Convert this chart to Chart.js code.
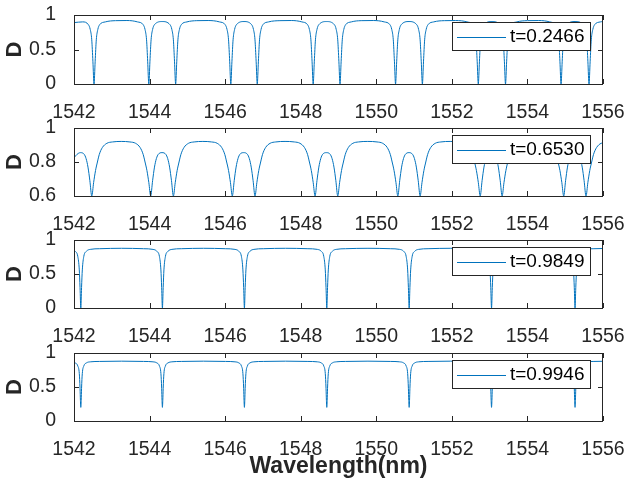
<!DOCTYPE html>
<html>
<head>
<meta charset="utf-8">
<script src="https://cdn.jsdelivr.net/npm/chart.js@4.4.1/dist/chart.umd.min.js"></script>
<style>
  html, body { margin: 0; padding: 0; background: #ffffff; }
  #fig { position: relative; width: 625px; height: 483px; overflow: hidden; background: #ffffff; }
  #fig canvas { position: absolute; left: 0; top: 0; }
</style>
</head>
<body>
<div id="fig">
  <canvas id="p0" width="625" height="483"></canvas>
  <canvas id="p1" width="625" height="483"></canvas>
  <canvas id="p2" width="625" height="483"></canvas>
  <canvas id="p3" width="625" height="483"></canvas>
</div>
<script>
// Shared wavelength axis (nm) and per-panel D axes
const wavelengthTicks = [1542, 1544, 1546, 1548, 1550, 1552, 1554, 1556];
const dTicks = [[0, 0.5, 1], [0.6, 0.8, 1], [0, 0.5, 1], [0, 0.5, 1]];
const dRanges = [[0, 1], [0.6, 1], [0, 1], [0, 1]];
const tLabels = ['t=0.2466', 't=0.6530', 't=0.9849', 't=0.9946'];

// Spectrum samples [wavelength nm, D] for each coupling value t
const spectrumT0 = [
  [1542.00,0.89],[1542.23,0.90],[1542.38,0.86],[1542.43,0.79],[1542.47,0.64],[1542.50,0.33],[1542.53,0],[1542.56,0.33],[1542.59,0.64],[1542.63,0.79],[1542.68,0.86],[1542.83,0.90],[1543.10,0.918],[1543.40,0.92],
  [1543.68,0.90],[1543.83,0.86],[1543.88,0.79],[1543.92,0.64],[1543.95,0.33],[1543.98,0],[1544.01,0.33],[1544.04,0.64],[1544.08,0.79],[1544.13,0.86],[1544.335,0.905],
  [1544.54,0.86],[1544.59,0.79],[1544.63,0.64],[1544.66,0.33],[1544.69,0],[1544.72,0.33],[1544.75,0.64],[1544.79,0.79],[1544.84,0.86],[1544.99,0.90],[1545.25,0.918],[1545.55,0.92],
  [1545.85,0.90],[1546.00,0.86],[1546.05,0.79],[1546.09,0.64],[1546.12,0.33],[1546.15,0],[1546.18,0.33],[1546.21,0.64],[1546.25,0.79],[1546.30,0.86],[1546.50,0.905],
  [1546.70,0.86],[1546.75,0.79],[1546.79,0.64],[1546.82,0.33],[1546.85,0],[1546.88,0.33],[1546.91,0.64],[1546.95,0.79],[1547.00,0.86],[1547.15,0.90],[1547.45,0.918],[1547.75,0.92],
  [1548.03,0.90],[1548.18,0.86],[1548.23,0.79],[1548.27,0.64],[1548.30,0.33],[1548.33,0],[1548.36,0.33],[1548.39,0.64],[1548.43,0.79],[1548.48,0.86],[1548.685,0.905],
  [1548.89,0.86],[1548.94,0.79],[1548.98,0.64],[1549.01,0.33],[1549.04,0],[1549.07,0.33],[1549.10,0.64],[1549.14,0.79],[1549.19,0.86],[1549.34,0.90],[1549.60,0.918],[1549.92,0.92],
  [1550.21,0.90],[1550.36,0.86],[1550.41,0.79],[1550.45,0.64],[1550.48,0.33],[1550.51,0],[1550.54,0.33],[1550.57,0.64],[1550.61,0.79],[1550.66,0.86],[1550.865,0.905],
  [1551.07,0.86],[1551.12,0.79],[1551.16,0.64],[1551.19,0.33],[1551.22,0],[1551.25,0.33],[1551.28,0.64],[1551.32,0.79],[1551.37,0.86],[1551.52,0.90],[1551.80,0.918],[1552.10,0.92],
  [1552.40,0.90],[1552.55,0.86],[1552.60,0.79],[1552.64,0.64],[1552.67,0.33],[1552.70,0],[1552.73,0.33],[1552.76,0.64],[1552.80,0.79],[1552.85,0.86],[1553.06,0.905],
  [1553.27,0.86],[1553.32,0.79],[1553.36,0.64],[1553.39,0.33],[1553.42,0],[1553.45,0.33],[1553.48,0.64],[1553.52,0.79],[1553.57,0.86],[1553.72,0.90],[1554.00,0.918],[1554.30,0.92],
  [1554.59,0.90],[1554.74,0.86],[1554.79,0.79],[1554.83,0.64],[1554.86,0.33],[1554.89,0],[1554.92,0.33],[1554.95,0.64],[1554.99,0.79],[1555.04,0.86],[1555.26,0.905],
  [1555.48,0.86],[1555.53,0.79],[1555.57,0.64],[1555.60,0.33],[1555.63,0],[1555.66,0.33],[1555.69,0.64],[1555.73,0.79],[1555.78,0.86],[1555.93,0.90],[1556.00,0.905]
];

const spectrumT1 = [
  [1542.00,0.825],[1542.08,0.845],[1542.17,0.855],[1542.27,0.845],[1542.32,0.82],[1542.37,0.77],[1542.42,0.69],[1542.47,0.60],
  [1542.52,0.68],[1542.57,0.75],[1542.62,0.80],[1542.67,0.845],[1542.75,0.885],[1542.87,0.91],[1543.02,0.918],[1543.25,0.921],[1543.48,0.918],
  [1543.63,0.91],[1543.75,0.885],[1543.83,0.845],[1543.88,0.80],[1543.93,0.75],[1543.98,0.68],[1544.03,0.60],
  [1544.08,0.69],[1544.13,0.77],[1544.18,0.82],[1544.23,0.845],[1544.33,0.855],[1544.43,0.845],[1544.48,0.82],[1544.53,0.77],[1544.58,0.69],[1544.63,0.60],
  [1544.68,0.68],[1544.73,0.75],[1544.78,0.80],[1544.83,0.845],[1544.91,0.885],[1545.03,0.91],[1545.18,0.918],[1545.41,0.921],[1545.64,0.918],
  [1545.79,0.91],[1545.91,0.885],[1545.99,0.845],[1546.04,0.80],[1546.09,0.75],[1546.14,0.68],[1546.19,0.60],
  [1546.24,0.69],[1546.29,0.77],[1546.34,0.82],[1546.39,0.845],[1546.49,0.855],[1546.59,0.845],[1546.64,0.82],[1546.69,0.77],[1546.74,0.69],[1546.79,0.60],
  [1546.84,0.68],[1546.89,0.75],[1546.94,0.80],[1546.99,0.845],[1547.07,0.885],[1547.19,0.91],[1547.34,0.918],[1547.585,0.921],[1547.83,0.918],
  [1547.98,0.91],[1548.10,0.885],[1548.18,0.845],[1548.23,0.80],[1548.28,0.75],[1548.33,0.68],[1548.38,0.60],
  [1548.43,0.69],[1548.48,0.77],[1548.53,0.82],[1548.58,0.845],[1548.68,0.855],[1548.78,0.845],[1548.83,0.82],[1548.88,0.77],[1548.93,0.69],[1548.98,0.60],
  [1549.03,0.68],[1549.08,0.75],[1549.13,0.80],[1549.18,0.845],[1549.26,0.885],[1549.38,0.91],[1549.53,0.918],[1549.775,0.921],[1550.02,0.918],
  [1550.17,0.91],[1550.29,0.885],[1550.37,0.845],[1550.42,0.80],[1550.47,0.75],[1550.52,0.68],[1550.57,0.60],
  [1550.62,0.69],[1550.67,0.77],[1550.72,0.82],[1550.77,0.845],[1550.865,0.855],[1550.96,0.845],[1551.01,0.82],[1551.06,0.77],[1551.11,0.69],[1551.16,0.60],
  [1551.21,0.68],[1551.26,0.75],[1551.31,0.80],[1551.36,0.845],[1551.44,0.885],[1551.56,0.91],[1551.71,0.918],[1551.955,0.921],[1552.20,0.918],
  [1552.35,0.91],[1552.47,0.885],[1552.55,0.845],[1552.60,0.80],[1552.65,0.75],[1552.70,0.68],[1552.75,0.60],
  [1552.80,0.69],[1552.85,0.77],[1552.90,0.82],[1552.95,0.845],[1553.04,0.855],[1553.13,0.845],[1553.18,0.82],[1553.23,0.77],[1553.28,0.69],[1553.33,0.60],
  [1553.38,0.68],[1553.43,0.75],[1553.48,0.80],[1553.53,0.845],[1553.61,0.885],[1553.73,0.91],[1553.88,0.918],[1554.145,0.921],[1554.41,0.918],
  [1554.56,0.91],[1554.68,0.885],[1554.76,0.845],[1554.81,0.80],[1554.86,0.75],[1554.91,0.68],[1554.96,0.60],
  [1555.01,0.69],[1555.06,0.77],[1555.11,0.82],[1555.16,0.845],[1555.255,0.855],[1555.35,0.845],[1555.40,0.82],[1555.45,0.77],[1555.50,0.69],[1555.55,0.60],
  [1555.60,0.68],[1555.65,0.75],[1555.70,0.80],[1555.75,0.845],[1555.83,0.885],[1555.95,0.91],[1556.00,0.912]
];

const spectrumT2 = [
  [1542.00,0.848],[1542.03,0.835],[1542.10,0.76],[1542.14,0.56],[1542.16,0.30],[1542.18,0],[1542.20,0.30],[1542.22,0.56],[1542.26,0.76],[1542.33,0.835],[1542.43,0.862],[1542.68,0.872],[1543.26,0.878],
  [1543.84,0.872],[1544.09,0.862],[1544.19,0.835],[1544.26,0.76],[1544.30,0.56],[1544.32,0.30],[1544.34,0],[1544.36,0.30],[1544.38,0.56],[1544.42,0.76],[1544.49,0.835],[1544.59,0.862],[1544.84,0.872],[1545.425,0.878],
  [1546.01,0.872],[1546.26,0.862],[1546.36,0.835],[1546.43,0.76],[1546.47,0.56],[1546.49,0.30],[1546.51,0],[1546.53,0.30],[1546.55,0.56],[1546.59,0.76],[1546.66,0.835],[1546.76,0.862],[1547.01,0.872],[1547.60,0.878],
  [1548.19,0.872],[1548.44,0.862],[1548.54,0.835],[1548.61,0.76],[1548.65,0.56],[1548.67,0.30],[1548.69,0],[1548.71,0.30],[1548.73,0.56],[1548.77,0.76],[1548.84,0.835],[1548.94,0.862],[1549.19,0.872],[1549.78,0.878],
  [1550.37,0.872],[1550.62,0.862],[1550.72,0.835],[1550.79,0.76],[1550.83,0.56],[1550.85,0.30],[1550.87,0],[1550.89,0.30],[1550.91,0.56],[1550.95,0.76],[1551.02,0.835],[1551.12,0.862],[1551.37,0.872],[1551.96,0.878],
  [1552.55,0.872],[1552.80,0.862],[1552.90,0.835],[1552.97,0.76],[1553.01,0.56],[1553.03,0.30],[1553.05,0],[1553.07,0.30],[1553.09,0.56],[1553.13,0.76],[1553.20,0.835],[1553.30,0.862],[1553.55,0.872],[1554.155,0.878],
  [1554.76,0.872],[1555.01,0.862],[1555.11,0.835],[1555.18,0.76],[1555.22,0.56],[1555.24,0.30],[1555.26,0],[1555.28,0.30],[1555.30,0.56],[1555.34,0.76],[1555.41,0.835],[1555.51,0.862],[1555.76,0.872],[1556.00,0.875]
];

const spectrumT3 = [
  [1542.00,0.862],[1542.03,0.855],[1542.10,0.81],[1542.14,0.70],[1542.16,0.48],[1542.17,0.30],[1542.18,0.20],[1542.19,0.30],[1542.20,0.48],[1542.22,0.70],[1542.26,0.81],[1542.33,0.855],[1542.43,0.87],[1542.68,0.876],[1543.26,0.88],
  [1543.84,0.876],[1544.09,0.87],[1544.19,0.855],[1544.26,0.81],[1544.30,0.70],[1544.32,0.48],[1544.33,0.30],[1544.34,0.20],[1544.35,0.30],[1544.36,0.48],[1544.38,0.70],[1544.42,0.81],[1544.49,0.855],[1544.59,0.87],[1544.84,0.876],[1545.425,0.88],
  [1546.01,0.876],[1546.26,0.87],[1546.36,0.855],[1546.43,0.81],[1546.47,0.70],[1546.49,0.48],[1546.50,0.30],[1546.51,0.20],[1546.52,0.30],[1546.53,0.48],[1546.55,0.70],[1546.59,0.81],[1546.66,0.855],[1546.76,0.87],[1547.01,0.876],[1547.60,0.88],
  [1548.19,0.876],[1548.44,0.87],[1548.54,0.855],[1548.61,0.81],[1548.65,0.70],[1548.67,0.48],[1548.68,0.30],[1548.69,0.20],[1548.70,0.30],[1548.71,0.48],[1548.73,0.70],[1548.77,0.81],[1548.84,0.855],[1548.94,0.87],[1549.19,0.876],[1549.78,0.88],
  [1550.37,0.876],[1550.62,0.87],[1550.72,0.855],[1550.79,0.81],[1550.83,0.70],[1550.85,0.48],[1550.86,0.30],[1550.87,0.20],[1550.88,0.30],[1550.89,0.48],[1550.91,0.70],[1550.95,0.81],[1551.02,0.855],[1551.12,0.87],[1551.37,0.876],[1551.96,0.88],
  [1552.55,0.876],[1552.80,0.87],[1552.90,0.855],[1552.97,0.81],[1553.01,0.70],[1553.03,0.48],[1553.04,0.30],[1553.05,0.20],[1553.06,0.30],[1553.07,0.48],[1553.09,0.70],[1553.13,0.81],[1553.20,0.855],[1553.30,0.87],[1553.55,0.876],[1554.155,0.88],
  [1554.76,0.876],[1555.01,0.87],[1555.11,0.855],[1555.18,0.81],[1555.22,0.70],[1555.24,0.48],[1555.25,0.30],[1555.26,0.20],[1555.27,0.30],[1555.28,0.48],[1555.30,0.70],[1555.34,0.81],[1555.41,0.855],[1555.51,0.87],[1555.76,0.876],[1556.00,0.878]
];

const spectra = [spectrumT0, spectrumT1, spectrumT2, spectrumT3];

// Layout of the stacked axes (pixel positions of each plot box)
const FONT = '"Liberation Sans", Arial, Helvetica, sans-serif';
const INK = '#262626';
const LINE = '#0072BD';
const BOX_LEFT = 74, BOX_RIGHT = 603, CANVAS_W = 625, CANVAS_H = 483;
const boxTops = [15, 128, 240, 353];
const boxBottoms = [84, 196, 308, 421];

// Box outline, inward ticks on all four sides, and the boxed legend
const matlabAxes = {
  id: 'matlabAxes',
  afterDraw(chart, args, opts) {
    const { ctx, chartArea: a, scales: { x, y } } = chart;
    const L = 5;
    ctx.save();
    ctx.strokeStyle = INK;
    ctx.lineWidth = 1;
    ctx.beginPath();
    x.ticks.forEach(t => {
      const px = Math.round(x.getPixelForValue(t.value)) + 0.5;
      ctx.moveTo(px, a.bottom); ctx.lineTo(px, a.bottom - L);
      ctx.moveTo(px, a.top); ctx.lineTo(px, a.top + L);
    });
    y.ticks.forEach(t => {
      const py = Math.round(y.getPixelForValue(t.value)) + 0.5;
      ctx.moveTo(a.left, py); ctx.lineTo(a.left + L, py);
      ctx.moveTo(a.right, py); ctx.lineTo(a.right - L, py);
    });
    ctx.stroke();
    ctx.strokeRect(a.left + 0.5, a.top + 0.5, a.right - a.left - 1, a.bottom - a.top);

    // legend
    const lx = a.right - 151, ly = a.top + 7, lw = 138, lh = 28;
    ctx.fillStyle = '#ffffff';
    ctx.fillRect(lx, ly, lw, lh);
    ctx.strokeStyle = INK;
    ctx.strokeRect(lx + 0.5, ly + 0.5, lw, lh);
    const cy = ly + lh / 2 + 0.5;
    ctx.strokeStyle = LINE;
    ctx.beginPath();
    ctx.moveTo(lx + 5, Math.round(cy) + 0.5);
    ctx.lineTo(lx + 54, Math.round(cy) + 0.5);
    ctx.stroke();
    ctx.fillStyle = '#000000';
    ctx.font = '19px ' + FONT;
    ctx.textBaseline = 'middle';
    ctx.textAlign = 'left';
    ctx.fillText(opts.label, lx + 58, cy);
    ctx.restore();
  }
};

function makePanel(i) {
  const top = boxTops[i], bottom = boxBottoms[i];
  const last = i === spectra.length - 1;
  new Chart(document.getElementById('p' + i), {
    type: 'line',
    data: {
      datasets: [{
        data: spectra[i].map(p => ({ x: p[0], y: p[1] })),
        borderColor: LINE,
        borderWidth: 1,
        pointRadius: 0,
        fill: false,
        cubicInterpolationMode: 'monotone'
      }]
    },
    options: {
      responsive: false,
      animation: false,
      devicePixelRatio: 1,
      layout: { padding: { top: top, left: 0, right: CANVAS_W - BOX_RIGHT, bottom: 0 } },
      plugins: {
        legend: { display: false },
        tooltip: { enabled: false },
        matlabAxes: { label: tLabels[i] }
      },
      scales: {
        x: {
          type: 'linear',
          min: wavelengthTicks[0],
          max: wavelengthTicks[wavelengthTicks.length - 1],
          afterBuildTicks: s => { s.ticks = wavelengthTicks.map(v => ({ value: v })); },
          afterFit: s => { s.height = CANVAS_H - bottom; s.paddingLeft = 0; s.paddingRight = 0; },
          grid: { display: false },
          border: { display: false },
          ticks: {
            color: INK,
            font: { family: FONT, size: 19.5 },
            padding: 9,
            maxRotation: 0,
            autoSkip: false,
            callback: v => String(v)
          },
          title: {
            display: last,
            text: 'Wavelength(nm)',
            color: INK,
            font: { family: FONT, size: 23, weight: 'bold', lineHeight: 1.2 },
            padding: { top: 0, bottom: 3 }
          }
        },
        y: {
          type: 'linear',
          min: dRanges[i][0],
          max: dRanges[i][1],
          afterBuildTicks: s => { s.ticks = dTicks[i].map(v => ({ value: v })); },
          afterFit: s => { s.width = BOX_LEFT; s.paddingTop = 0; s.paddingBottom = 0; },
          grid: { display: false },
          border: { display: false },
          ticks: {
            color: INK,
            font: { family: FONT, size: 19.5 },
            padding: 10,
            autoSkip: false,
            callback: v => String(v)
          },
          title: {
            display: true,
            text: 'D',
            color: INK,
            font: { family: FONT, size: 22, weight: 'bold', lineHeight: 1.2 },
            padding: { top: 2, bottom: 0 }
          }
        }
      }
    },
    plugins: [matlabAxes]
  });
}

spectra.forEach((_, i) => makePanel(i));
</script>
</body>
</html>
